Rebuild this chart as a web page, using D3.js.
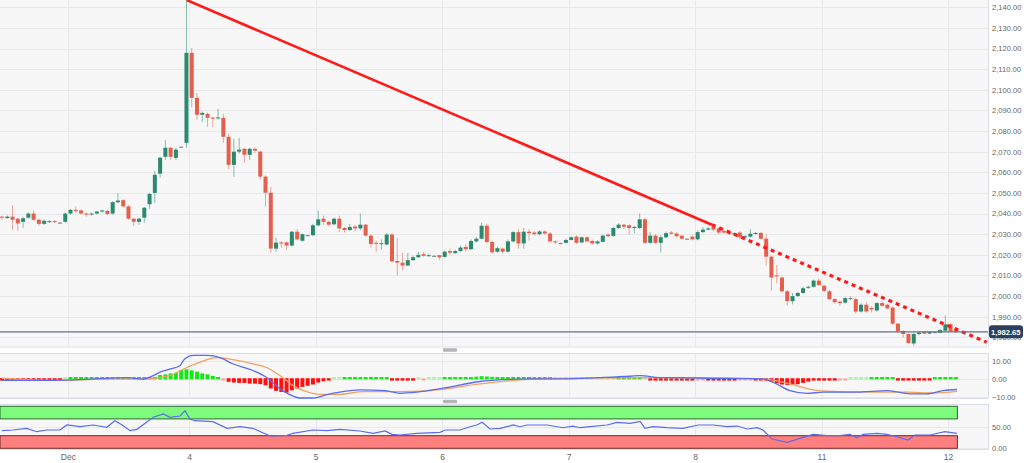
<!DOCTYPE html>
<html><head><meta charset="utf-8">
<script src="https://cdn.jsdelivr.net/npm/d3@7"></script>
<style>body{margin:0;background:#fff;}svg{display:block;font-family:"Liberation Sans",Arial,sans-serif;}</style>
</head><body><svg id="c" width="1024" height="463"></svg>
<script>
// ---------- DATA (hourly candles, XAU/USD) ----------
const open=[2038.5,2037.8,2038.5,2037.5,2036,2038,2040,2037,2035,2036,
2036.3,2035.6,2036,2040,2041.8,2041.5,2040,2039.8,2040,2041,
2041.3,2040,2045.5,2046.5,2043.5,2037.5,2036,2038,2044.5,2050,
2059.3,2067.5,2071.9,2067,2072.4,2074.3,2117.9,2096.1,2087.9,2088.3,
2086.5,2086.2,2086.4,2077.2,2063.6,2070,2071.4,2068.5,2071.4,2070,
2057.9,2050.1,2023,2026,2026,2024.5,2031.2,2026.8,2029.5,2029.5,
2034.3,2037.5,2036,2034.8,2037.5,2033,2032,2033.7,2032.8,2034.6,
2029.3,2025.8,2025.3,2025,2029.8,2017,2016.2,2014.8,2017.4,2018.8,
2020.3,2019.6,2019.5,2019.8,2019,2021.8,2020.8,2021.8,2023.8,2022.7,
2026.5,2027.8,2034.1,2026.2,2021.5,2023,2021.5,2026.5,2031,2025.5,
2031.2,2030.8,2030,2031.3,2030.3,2026.5,2025.7,2025.8,2027.2,2028.8,
2026,2028.5,2026.7,2025.5,2026.3,2029.8,2029.2,2033,2034.6,2034.3,
2033,2033,2037.2,2025.8,2029.3,2025.8,2028.5,2030.8,2030.3,2029.2,
2027.8,2028.8,2027.5,2031,2032.2,2033.5,2032.8,2031.5,2031,2029.8,
2030.8,2028.5,2028.8,2030.2,2030.6,2027.8,2019.1,2010,2009,2002.3,
1997.5,2000,2001.5,2004,2004.5,2007.5,2005,2002.3,1998.5,1997.3,
1996.8,1999,1998.5,1992.5,1995.8,1994.2,1993,1996.6,1995.8,1994.4,
1986.6,1983,1981.6,1977,1981.6,1982.6,1981.8,1982.5,1982.2,1983.2,
1986.3,1983.8];
const high=[2039,2039,2044,2038,2038.5,2040.5,2041.5,2037.5,2037,2037,
2036.8,2035.8,2040.5,2042.2,2043.5,2042,2040.5,2040.5,2041.3,2042,
2041.8,2046,2050,2047,2044,2038,2038,2043.3,2050,2060.7,
2067.5,2075.7,2072.5,2072,2072.6,2144,2120.3,2098.5,2089.5,2089,
2087,2090.8,2088.3,2078.7,2076.2,2076.7,2072,2072,2072,2070.5,
2058.5,2053,2028.3,2026.5,2026.5,2031.5,2032.5,2030.3,2029.8,2035,
2041.5,2039,2036.5,2038,2039,2033.5,2035,2034.5,2040,2035,
2030,2027,2027.5,2030.5,2030.5,2028,2021,2021,2019.5,2021.5,
2021.5,2020.5,2019.7,2020,2022,2023,2022.5,2024.5,2025,2027.5,
2028.5,2035.5,2035,2026.8,2024,2023.5,2027.5,2031.5,2032.5,2033,
2032.5,2031.5,2032,2031.8,2031,2027,2026,2027.8,2029,2029.5,
2029,2029,2027.3,2027,2029.8,2030.5,2033.5,2035.3,2035,2034.8,
2034,2040,2038,2031,2030,2029.5,2031.3,2031.5,2031,2029.8,
2028,2029.3,2031.8,2033.5,2033.5,2034,2033.5,2032,2031.5,2031,
2031.5,2029.5,2032.5,2031,2031,2030,2019.5,2015,2009.5,2003,
2001.5,2002,2004.5,2005,2008,2008.5,2005.5,2003,1999,1997.8,
1999.5,2000,1999.2,1996.5,1997,1995,1997,1997.5,1996.3,1995,
1987,1983.5,1982,1982.4,1983,1983,1983,1982.8,1984,1990.6,
1987,1984.5];
const low=[2037,2037.5,2032,2031.5,2033,2037.5,2036.5,2034,2034.5,2035.5,
2035.5,2035.4,2035.5,2039.5,2040.5,2039.5,2038.5,2039,2039.5,2040.5,
2039.2,2039.5,2045,2043,2037,2034,2034.5,2035.5,2042.3,2045.2,
2057.4,2066,2066,2066,2072.2,2071.9,2091.3,2085.5,2084.5,2082,
2082,2085.5,2074.3,2061.7,2057.8,2069,2064.6,2066,2069.5,2056.4,
2043.3,2021,2021.5,2023.5,2022.5,2024,2027,2026.5,2029.2,2029,
2033.8,2034.5,2033.8,2034.3,2031,2030.8,2031.5,2031.5,2032,2028.8,
2023.4,2021.5,2022.5,2024.5,2016.2,2010,2012.5,2014.5,2017,2018.5,
2019,2019.2,2019.3,2017.6,2018.8,2020,2020.5,2021.5,2021.5,2022.3,
2026,2027.5,2025.5,2020.5,2021,2020.5,2021,2026,2023,2023,
2027,2029.3,2029.5,2029.8,2025.8,2025.3,2025,2025.5,2027,2025.3,
2025.5,2026,2025,2025,2026,2028.5,2028.8,2032.5,2032.5,2029.8,
2030.5,2032.5,2025.3,2025.3,2025.3,2021.2,2028,2029.8,2028.5,2027.3,
2027.6,2027,2027,2030.5,2031.8,2031.5,2030,2030.3,2029.5,2029,
2027.5,2028,2028.3,2029.8,2027.3,2014.8,2002.7,2006.3,2001.8,1995.4,
1996,1999.5,2001,2003.5,2004,2005,2002,1998,1996.3,1995.3,
1996.3,1998,1991.5,1992,1992,1992,1992.5,1994.8,1993.5,1986,
1982,1980,1976.8,1976,1981,1981.5,1981.5,1982.2,1982,1982.8,
1982.5,1982];
const close=[2038,2038.5,2037,2035.2,2037.7,2040,2037,2035,2036.5,2036.3,
2036,2035.6,2040,2041.8,2041.2,2040,2039.5,2040,2041,2041.5,
2039.8,2045.5,2046.3,2043.5,2037.5,2036,2037.5,2042.8,2049.5,2058.8,
2067.1,2071.9,2067.5,2071,2072.4,2117.9,2096.1,2087.9,2088.8,2086.4,
2086.2,2086.6,2077.2,2063.6,2070,2071,2068.5,2071.4,2070.5,2057.9,
2050.1,2023,2025.9,2025.5,2024.5,2031.2,2027.5,2030,2029.5,2034.3,
2037.2,2036,2034.6,2037.5,2032.8,2032,2033.5,2032.8,2034.6,2029.3,
2025.3,2025.3,2025.6,2029.8,2016.8,2016.2,2014.8,2017.4,2018.8,2020,
2019.5,2019.8,2019.5,2018.8,2021.5,2021,2021.8,2023.5,2022.7,2026.7,
2027.8,2034.1,2026.2,2021.2,2023.2,2021.5,2026.5,2031,2025.5,2031.2,
2030.5,2030,2031.3,2030.3,2026.5,2026,2025.5,2027.2,2028.5,2025.8,
2028.5,2026.5,2025.5,2026.5,2029.3,2029,2033,2034.6,2033.6,2033,
2033.5,2037.2,2025.8,2029.3,2025.8,2028.5,2030.5,2030.2,2029,2027.8,
2027.8,2027.5,2031,2032.2,2032.8,2032.2,2030.8,2030.8,2030,2030.5,
2028.5,2029,2030.2,2030.6,2027.8,2019.1,2009,2009.5,2002.3,1997.5,
2000,2001.5,2003.8,2004.5,2007.5,2005.3,2002.5,1998.5,1997,1996.6,
1999,1999,1992.5,1995.8,1992.5,1993.5,1996.6,1995.3,1994,1986.6,
1983,1981.6,1977.2,1981.6,1982.3,1981.8,1982.6,1982.5,1983.5,1986.3,
1983,1982.65];

const dayTickIdx=[12.5,35.5,59.5,83.5,107.5,131.5,155.5,179.5];
const dayTickLabels=["Dec","4","5","6","7","8","11","12"];
const priceTicks=[1980,1990,2000,2010,2020,2030,2040,2050,2060,2070,2080,2090,2100,2110,2120,2130,2140];
const lastPrice=1982.65;

// trend line (candle index, price)
const trendIdx=[35.05,134.7,186.85];
const trendPrice=[2143.5,2034.6,1977.6];

// MACD
const macdTicks=[-10,0,10];
const macdIdx=[0,6,12,17,20.5,23.7,26.8,28.5,30,32,33.8,34.7,36.3,38.9,41.4,43.8,47.6,50.3,52.8,54.6,56.5,59,61.7,64.1,67.9,72.7,75.5,78.7,83.7,90.7,95,100.2,106.5,113,119.2,121.1,124.9,127.3,135,144.4,146.3,149.5,152.8,155.8,162.2,168,172.3,175.5,178.6,181.2];
const macdVal=[-0.9,-0.9,-0.7,-0.2,0.4,0.6,-0.1,1.5,3.7,5.5,7.4,11.1,12.9,12.9,11.7,8.3,4.6,0.6,-5.6,-8.7,-10.6,-10.6,-8.7,-7.4,-6.1,-6.5,-8,-7.4,-5.2,-1.5,-0.5,0,0,0.6,1.4,1.8,0.6,0.6,0.3,0,-1.9,-6.5,-8,-7.4,-7.4,-6.5,-8.3,-8.3,-6.5,-5.9];
const signalIdx=[0,5.9,12.3,20.5,26.8,31.3,35,37.6,40.7,43.8,47.6,50.3,52.8,55.3,57.8,60.3,64.1,68.5,75,81.2,90.7,101.5,110,124.9,135,144.4,149.5,153.9,159,165,171.7,176.7,181.2];
const signalVal=[0.3,-0.6,-0.9,0,-0.1,1.3,6.1,9.2,11.7,10.6,8.3,6.1,1.7,-3.9,-7.1,-8.6,-8.6,-7.1,-7.1,-6.5,-2.8,0,0.4,0.6,0.4,0,-2.8,-6.1,-7.1,-7.3,-7.4,-7.8,-6.9];
const histVal=[-0.9,-0.8,-0.7,-0.7,-0.6,-0.5,-0.5,-0.5,-0.4,-0.4,-0.3,-0.3,
0.1,0.2,0.3,0.3,0.3,0.3,0.3,0.3,0.4,0.4,0.4,0.4,0.3,0.2,0.2,0.3,
0.8,1.3,2.4,2.8,3.3,3.7,5.2,5.6,5.0,4.3,3.3,2.8,1.9,0.9,-0.1,-2.0,-2.4,-2.6,-2.6,-3.0,-3.0,-3.3,-3.9,-5.7,-7.0,-7.6,-8.0,-6.7,-5.7,-4.8,-4.2,-3.5,-2.4,-1.7,-0.9,0.1,0.1,
0.3,0.4,0.4,0.4,0.4,0.4,0.3,0.3,0.2,
-0.3,-0.4,-0.4,-0.4,-0.3,
0.05,-0.05,0.05,0.1,0.1,
0.4,0.5,0.6,0.8,1.0,1.2,1.5,1.8,
1.6,1.4,1.2,1.1,1.0,0.9,0.8,0.7,0.6,0.5,0.4,0.3,
0.2,0.15,0.1,0.1,0.05,0.05,0.1,0.1,0.05,0.1,0.1,0.1,0.15,0.2,0.25,
0.4,0.5,0.4,
0.1,
-0.3,-0.4,-0.4,-0.4,-0.4,-0.4,-0.3,-0.3,-0.2,-0.1,-0.1,-0.2,-0.3,-0.3,-0.3,-0.2,-0.2,-0.1,-0.1,-0.1,-0.2,-0.3,
-1.0,-1.9,-2.8,-3.5,-3.7,-3.7,-3.3,-2.6,-1.9,-1.3,-0.9,-0.6,-0.4,-0.4,
-0.1,-0.05,0.05,0.05,0.1,0.1,
0.3,0.4,0.4,0.3,0.3,
-0.3,-0.5,-0.7,-0.8,-0.7,-0.5,-0.3,
0.3,0.4,0.5,0.5,0.5];

// RSI
const rsiTicks=[0,50];
const rsiIdx=[0,2.1,4.7,6.6,8.5,11,12.3,14.8,17.3,19.9,21.4,22.8,24.3,25.6,28.7,30.6,31.9,33.8,34.7,35.7,36.6,40,42.7,45.2,47.6,50.9,54.1,55.2,59,61.7,64.1,67.9,70.4,72.7,74,75.5,78.7,83.1,84.1,86.9,88.8,90.1,91.1,92.6,94.5,97,98.3,99.6,103.4,106.5,108.3,109.7,111.6,114.8,116.7,119.2,121.1,122,123.5,126.2,129.2,132.1,134.9,137.6,139.5,141.4,143.3,144.4,146.1,149,151.4,153.9,156.5,159,160.9,162.2,163.4,166,167.9,169.8,171.9,173.2,176.1,178.9,181.2];
const rsiVal=[41.9,43.6,47.6,39.5,43.6,43.6,55.5,51.4,55.5,50,65.7,55.5,41.9,45.2,73.8,81.7,73.8,76.9,89.5,69,65.7,63.3,47.6,51.4,47.6,29.3,31,35.7,43.6,41.9,45.2,41.2,35.7,41.2,33.3,31.7,35.7,38.1,43.6,43.6,51.4,55.5,61.9,46,47.6,55.5,51.4,55.5,55.5,49,53,49,51.4,55.5,61.9,59.5,64.3,47.6,51.4,49,47.6,55.5,55.5,51.4,53,46,49,43.6,22.1,14.3,23.8,33.3,30,30,33.3,25.2,33.3,35.7,33.3,27.6,19.8,31.7,31.7,39.5,35.7];
const rsiBands=[[70,100],[0,30]];

// ---------- LAYOUT ----------
const svg=d3.select('#c');
const plotR=988;
const main={t:0,b:346.5}, mp={t:353,b:398}, rp={t:404,b:449};
const x=d3.scaleLinear().domain([0,181]).range([2,955.9]);
const yP=d3.scaleLinear().domain([1980,2140]).range([337.3,7.3]);
const yM=d3.scaleLinear().domain([-10,10]).range([396.9,360.7]);
const yR=d3.scaleLinear().domain([0,100]).range([448.3,406.3]);
const gridC="#e9e9ec", borderC="#dadde9";
const FS='7.6px';

svg.append('rect').attr('width',1024).attr('height',463).attr('fill','#fff');
[main,mp,rp].forEach(p=>{
  svg.append('rect').attr('x',0).attr('y',p.t).attr('width',plotR).attr('height',p.b-p.t)
    .attr('fill','#f7f7f7');
});
const defs=svg.append('defs');
defs.append('clipPath').attr('id','cm').append('rect').attr('x',0).attr('y',main.t).attr('width',plotR).attr('height',main.b-main.t);

// horizontal grid
const g=svg.append('g');
g.selectAll('.hp').data(priceTicks).join('line').attr('x1',0).attr('x2',plotR)
  .attr('y1',d=>Math.round(yP(d))+0.5).attr('y2',d=>Math.round(yP(d))+0.5).attr('stroke',gridC);
g.selectAll('.hm').data(macdTicks).join('line').attr('x1',0).attr('x2',plotR)
  .attr('y1',d=>Math.round(yM(d))+0.5).attr('y2',d=>Math.round(yM(d))+0.5).attr('stroke',gridC);
g.selectAll('.hr').data(rsiTicks).join('line').attr('x1',0).attr('x2',plotR)
  .attr('y1',d=>Math.round(yR(d))+0.5).attr('y2',d=>Math.round(yR(d))+0.5).attr('stroke',gridC);
// vertical grid
[main,mp,rp].forEach(p=>{
  g.append('g').selectAll('line').data(dayTickIdx).join('line')
   .attr('x1',d=>Math.round(x(d))+0.5).attr('x2',d=>Math.round(x(d))+0.5)
   .attr('y1',p.t).attr('y2',p.b).attr('stroke',gridC);
});

// panel borders
[main,mp,rp].forEach(p=>{
  svg.append('line').attr('x1',0).attr('x2',plotR).attr('y1',p.b+0.5).attr('y2',p.b+0.5).attr('stroke',borderC);
  if(p!==main) svg.append('line').attr('x1',0).attr('x2',plotR).attr('y1',p.t+0.5).attr('y2',p.t+0.5).attr('stroke',borderC);
  svg.append('line').attr('x1',plotR+0.5).attr('x2',plotR+0.5).attr('y1',p.t).attr('y2',p.b+0.5).attr('stroke',borderC);
});
// handles
[350,401.5].forEach(yy=>svg.append('rect').attr('x',443).attr('y',yy-1.8).attr('width',14).attr('height',3.6).attr('rx',1).attr('fill','#b4b4b4'));

// ---------- CANDLES ----------
const candles=open.map((o,i)=>({i,o,h:high[i],l:low[i],c:close[i]}));
const upC="#2b8a6e", dnC="#e2604e", djC="#777";
const col=d=>d.c>d.o?upC:(d.c<d.o?dnC:djC);
const cg=svg.append('g').attr('clip-path','url(#cm)');
cg.selectAll('line.w').data(candles).join('line')
  .attr('x1',d=>x(d.i)).attr('x2',d=>x(d.i)).attr('y1',d=>yP(d.h)).attr('y2',d=>yP(d.l))
  .attr('stroke',col).attr('stroke-opacity',0.55).attr('stroke-width',1);
const bw=4;
cg.selectAll('rect.b').data(candles).join('rect')
  .attr('x',d=>x(d.i)-bw/2).attr('width',bw)
  .attr('y',d=>yP(Math.max(d.o,d.c)))
  .attr('height',d=>Math.max(1,Math.abs(yP(d.o)-yP(d.c))))
  .attr('fill',col);

// trend line
const tl=d3.line().x(d=>x(d[0])).y(d=>yP(d[1]));
const tp=trendIdx.map((v,i)=>[v,trendPrice[i]]);
cg.append('path').attr('d',tl(tp.slice(0,2))).attr('stroke','#ff1a1a').attr('stroke-width',2.6).attr('fill','none');
cg.append('path').attr('d',tl(tp.slice(1))).attr('stroke','#ff1a1a').attr('stroke-width',3.2)
  .attr('stroke-dasharray','4,4').attr('fill','none');

// last price line
svg.append('line').attr('x1',0).attr('x2',plotR).attr('y1',yP(lastPrice)).attr('y2',yP(lastPrice))
  .attr('stroke','#5a7090').attr('stroke-width',1.2);

// ---------- AXES ----------
const fmt=d3.format(",.2f");
function styleAxis(sel){
  sel.select('.domain').remove();
  sel.selectAll('text').attr('fill','#666').style('font-size',FS).style('font-family','"Liberation Sans",Arial,sans-serif');
}
svg.append('g').attr('transform',`translate(${plotR},0)`)
  .call(d3.axisRight(yP).tickValues(priceTicks).tickFormat(fmt).tickSize(0).tickPadding(4)).call(styleAxis);
svg.append('g').attr('transform',`translate(${plotR},0)`)
  .call(d3.axisRight(yM).tickValues(macdTicks).tickFormat(fmt).tickSize(0).tickPadding(4)).call(styleAxis);
svg.append('g').attr('transform',`translate(${plotR},0)`)
  .call(d3.axisRight(yR).tickValues(rsiTicks).tickFormat(fmt).tickSize(0).tickPadding(4)).call(styleAxis);
svg.append('g').attr('transform',`translate(0,${rp.b+2})`)
  .call(d3.axisBottom(x).tickValues(dayTickIdx).tickFormat((d,i)=>dayTickLabels[i]).tickSize(0).tickPadding(3)).call(styleAxis)
  .selectAll('text').style('font-size','8.5px');

// last price tag
const ly=yP(lastPrice);
svg.append('rect').attr('x',plotR+1).attr('y',ly-6.5).attr('width',34).attr('height',13).attr('rx',3).attr('fill','#2c405e');
svg.append('text').attr('x',plotR+3).attr('y',ly+3).attr('fill','#fff').style('font-size',FS).style('font-weight','bold').text(fmt(lastPrice));

// ---------- MACD ----------
const y0=yM(0);
svg.append('g').selectAll('rect').data(histVal).join('rect')
  .attr('x',(d,i)=>x(i)-2).attr('width',4)
  .attr('y',d=>{const h=Math.max(2.4,Math.abs(yM(d)-y0));return d>=0?y0-h+0.6:y0-0.6;})
  .attr('height',d=>Math.max(2.4,Math.abs(yM(d)-y0)))
  .attr('fill',d=>d>=0?'#19e619':'#ff1010')
  .attr('fill-opacity',d=>Math.abs(d)<0.2?0.3:1);
const ml=d3.line().x(d=>x(d[0])).y(d=>yM(d[1])).curve(d3.curveMonotoneX);
svg.append('path').attr('d',ml(signalIdx.map((v,i)=>[v,signalVal[i]]))).attr('stroke','#f4a062').attr('stroke-width',1.3).attr('fill','none');
svg.append('path').attr('d',ml(macdIdx.map((v,i)=>[v,macdVal[i]]))).attr('stroke','#5a6cf2').attr('stroke-width',1.3).attr('fill','none');

// ---------- RSI ----------
const bandX1=x(181)+1.5;
svg.append('rect').attr('x',0).attr('y',yR(rsiBands[0][1])).attr('width',bandX1).attr('height',yR(rsiBands[0][0])-yR(rsiBands[0][1]))
  .attr('fill','#7cfb7c').attr('stroke','#2f6a2f').attr('stroke-width',1);
svg.append('rect').attr('x',0).attr('y',yR(rsiBands[1][1])).attr('width',bandX1).attr('height',yR(rsiBands[1][0])-yR(rsiBands[1][1]))
  .attr('fill','#ff7e7e').attr('stroke','#6e2a2a').attr('stroke-width',1);
const rl=d3.line().x(d=>x(d[0])).y(d=>yR(d[1]));
svg.append('path').attr('d',rl(rsiIdx.map((v,i)=>[v,rsiVal[i]]))).attr('stroke','#5a6cf2').attr('stroke-width',1.2).attr('fill','none');
</script></body></html>
